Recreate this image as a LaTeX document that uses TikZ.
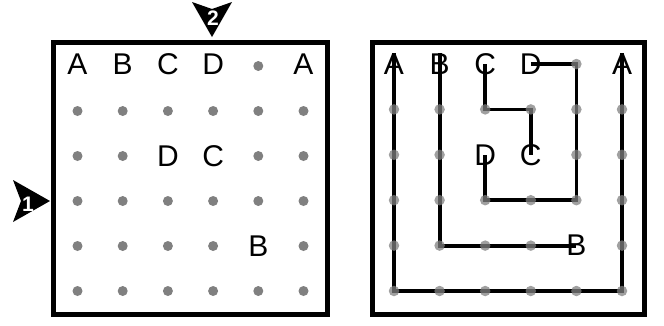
\documentclass[tikz,border=0pt]{standalone}
\usepackage{fontspec}
\setmainfont{Liberation Sans}
\definecolor{dotgray}{RGB}{128,128,128}
\begin{document}
\begin{tikzpicture}[x=1pt,y=-1pt,
  frame/.style={line width=5pt},
  dot/.style={circle,fill=dotgray,inner sep=0pt,minimum size=10pt},
  rdot/.style={dot,minimum size=10.5pt,fill opacity=0.75},
  lbl/.style={font=\fontsize{30}{32}\selectfont,inner sep=0pt},
  route/.style={line width=3.8pt,line join=miter},
  mnum/.style={text=white,font=\bfseries\fontsize{21}{22}\selectfont,inner sep=0pt}]
\useasboundingbox (0,0) rectangle (664,325);
% frames
\draw[frame] (53,42) rectangle (327,314);
\draw[frame] (372,42) rectangle (644,314);
% grid coordinates
\foreach \i in {0,...,5}{
  \foreach \j in {0,...,5}{
    \coordinate (L\i\j) at ({77.5+45.2*\i},{66+45*\j});
    \coordinate (R\i\j) at ({394+45.6*\i},{64+45.4*\j});
  }
}
% left dots
\foreach \p in {40,01,11,21,31,41,51,02,12,42,52,03,13,23,33,43,53,04,14,24,34,54,05,15,25,35,45,55}{
  \node[dot] (Ld\p) at (L\p) {};
}
% left letters
\node[lbl,yshift=2pt] (LA1) at (L00) {A};
\node[lbl,yshift=2pt] (LB1) at (L10) {B};
\node[lbl,yshift=2pt] (LC1) at (L20) {C};
\node[lbl,yshift=2pt] (LD1) at (L30) {D};
\node[lbl,yshift=2pt] (LA2) at (L50) {A};
\node[lbl] (LD2) at (L22) {D};
\node[lbl] (LC2) at (L32) {C};
\node[lbl] (LB2) at (L44) {B};
% right letters
\node[lbl] (RA1) at (R00) {A};
\node[lbl] (RB1) at (R10) {B};
\node[lbl] (RC1) at (R20) {C};
\node[lbl] (RD1) at (R30) {D};
\node[lbl] (RA2) at (R50) {A};
\node[lbl] (RD2) at (R22) {D};
\node[lbl] (RC2) at (R32) {C};
\node[lbl] (RB2) at (R44) {B};
% right routes
\draw[route] (RA1.north) -- (R05) -- (R55) -- (RA2.north);
\draw[route] (RB1.north) -- (R14) -- (RB2.center);
\draw[route] (RC1.center) -- (R21) -- (R31) -- (RC2.center);
\draw[route] (RD1.center) -- (R40) -- (R43) -- (R23) -- (RD2.center);
% right dots
\foreach \p in {40,01,11,21,31,41,51,02,12,42,52,03,13,23,33,43,53,04,14,24,34,54,05,15,25,35,45,55}{
  \node[rdot] (Rd\p) at (R\p) {};
}
% markers
\fill (50,201) -- (13,180) -- (21,201) -- (13,222) -- cycle;
\node[mnum] (m1) at (28,204) {1};
\fill (212,37) -- (192,2) -- (212,9) -- (232,2) -- cycle;
\node[mnum] (m2) at (213,18) {2};
\end{tikzpicture}
\end{document}
